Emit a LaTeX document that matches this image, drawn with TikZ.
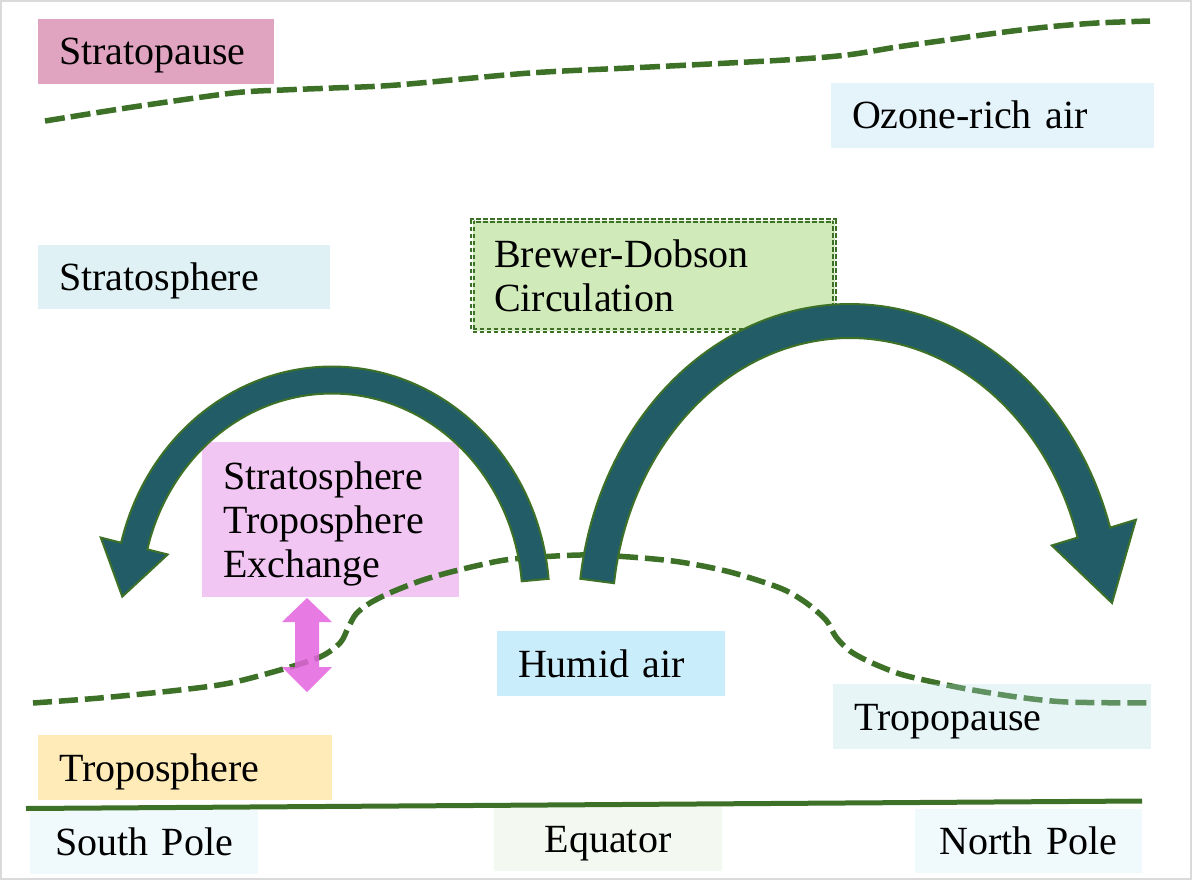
\documentclass[tikz,border=0pt]{standalone}
\usepackage{fontspec}
\setmainfont{Liberation Serif}
\definecolor{lgreen}{HTML}{3D7128}
\definecolor{arrowfill}{HTML}{225C66}
\definecolor{cstratopause}{HTML}{E0A4C0}
\definecolor{cozone}{HTML}{E5F4FB}
\definecolor{cstrato}{HTML}{DFF1F4}
\definecolor{cbd}{HTML}{D0EAB9}
\definecolor{cste}{HTML}{F2C6F2}
\definecolor{chumid}{HTML}{C9EDFB}
\definecolor{ctropopause}{RGB}{178,222,228}
\definecolor{ctropo}{HTML}{FFEBB7}
\definecolor{csouth}{HTML}{F0FAFD}
\definecolor{cequator}{HTML}{F3F9F1}
\definecolor{cnorth}{HTML}{F0F9FC}
\definecolor{cmagenta}{RGB}{227,99,222}
\definecolor{cframe}{HTML}{DADADA}
\begin{document}
\begin{tikzpicture}[x=1pt,y=-1pt,
  every node/.style={font=\fontsize{40}{44}\selectfont, inner ysep=0pt, outer sep=0pt},
  lbox/.style={anchor=north west, inner xsep=21pt, align=left, text height=30pt, text depth=3pt},
  cbox/.style={anchor=north west, inner xsep=0pt, align=center, text height=30pt, text depth=3pt},
  pauseline/.style={draw=lgreen, line width=5.5pt, dash pattern=on 20pt off 6pt},
  tropoline/.style={draw=lgreen, line width=5.5pt, dash pattern=on 19pt off 7pt},
  bigarrow/.style={fill=arrowfill, draw=lgreen, line width=2pt, line join=miter}]
\useasboundingbox (0,0) rectangle (1192,880);
\draw[cframe, line width=4pt] (0,0) rectangle (1192,880);

% stratopause line
\draw[pauseline] plot[smooth, tension=0.5] coordinates {(45,121) (133,107) (233,93) (283,90) (333,88) (397,85) (530,73) (650,67) (785,60) (847,55) (897,47) (947,40) (997,33) (1047,27) (1097,23) (1150,21)};

% boxes in the upper part
\node[lbox, fill=cstratopause, minimum width=236pt, minimum height=65pt, text width=194pt] (stratopause) at (38,19) {Stratopause};
\node[lbox, fill=cozone, minimum width=323pt, minimum height=65pt, text width=281pt, inner xsep=20pt] (ozone) at (831,83) {Ozone-rich air};
\node[lbox, fill=cstrato, minimum width=292pt, minimum height=64pt, text width=250pt] (stratosphere) at (38,245) {Stratosphere};
\node[lbox, fill=cste, minimum width=257pt, minimum height=155pt, text width=215pt, text depth=91pt] (ste) at (202,442) {Stratosphere\\Troposphere\\Exchange};
\node[lbox, fill=chumid, minimum width=228pt, minimum height=65pt, text width=186pt] (humid) at (497,631) {Humid air};
\node[lbox, fill=ctropo, minimum width=294pt, minimum height=65pt, text width=252pt] (troposphere) at (38,735) {Troposphere};

% tropopause line
\draw[tropoline] plot[smooth, tension=0.5] coordinates {(33,703) (100,698) (180,690) (230,683) (280,670) (320,657) (340,643) (348,628) (356,614) (370,603) (392,592) (420,581) (447,573) (480,565) (513,559) (580,555) (630,557) (680,562) (730,572) (780,588) (805,602) (826,620) (836,637) (850,651) (870,662) (900,674) (933,682) (967,689) (1017,697) (1067,702) (1150,703)};

\node[lbox, fill=ctropopause, fill opacity=0.3, text opacity=1, minimum width=318pt, minimum height=65pt, text width=276pt] (tropopause) at (833,684) {Tropopause};

% Brewer-Dobson box
\node[lbox, fill=cbd, draw=lgreen, double=white!60!cbd, double distance=1.2pt, line width=1.7pt, dash pattern=on 4.5pt off 2.5pt, minimum width=362pt, minimum height=110pt, text width=319pt, text depth=47pt, inner xsep=21.5pt] (bd) at (472.5,220.5) {Brewer-Dobson\\Circulation};

% right circulation arrow (centre 850,620)
\filldraw[bigarrow]
  plot[domain=-172.5:-17, samples=90, variable=\t] ({850+272*cos(\t)},{620+316*sin(\t)})
  -- ({850+299*cos(-17)},{620+343*sin(-17)})
  -- (1112,603) coordinate (rtip)
  -- ({850+211*cos(-17)},{620+255*sin(-17)})
  -- plot[domain=-172.5:-17, samples=90, variable=\t] ({850+238*cos(-189.5-\t)},{620+282*sin(-189.5-\t)})
  -- cycle;

% left circulation arrow (centre 332,600)
\filldraw[bigarrow]
  plot[domain=-165.8:-5.2, samples=90, variable=\t] ({332+217.5*cos(-171-\t)},{600+233.5*sin(-171-\t)})
  -- ({332+238.5*cos(-165.8)},{600+254.5*sin(-165.8)})
  -- (122.3,596.6) coordinate (ltip)
  -- ({332+169.5*cos(-165.8)},{600+185.5*sin(-165.8)})
  -- plot[domain=-165.8:-5.2, samples=90, variable=\t] ({332+190.5*cos(\t)},{600+206.5*sin(\t)})
  -- cycle;

% exchange double arrow
\coordinate (xtop) at (307,598);
\coordinate (xbot) at (307,692);
\fill[cmagenta, fill opacity=0.85] (xtop) -- (332,622) -- (319,622) -- (319,667) -- (332,667) -- (xbot) -- (282,667) -- (295,667) -- (295,622) -- (282,622) -- cycle;

% ground
\node[cbox, fill=csouth, minimum width=228pt, minimum height=64pt, text width=228pt] (south) at (30,810) {South Pole};
\node[cbox, fill=cequator, minimum width=228pt, minimum height=65pt, text width=228pt] (equator) at (494,806) {Equator};
\node[cbox, fill=cnorth, minimum width=227pt, minimum height=64pt, text width=227pt] (north) at (915,809) {North Pole};
\coordinate (gleft) at (26,808.5);
\coordinate (gright) at (1142,801);
\draw[lgreen, line width=5pt] (gleft) -- (gright);
\end{tikzpicture}
\end{document}
